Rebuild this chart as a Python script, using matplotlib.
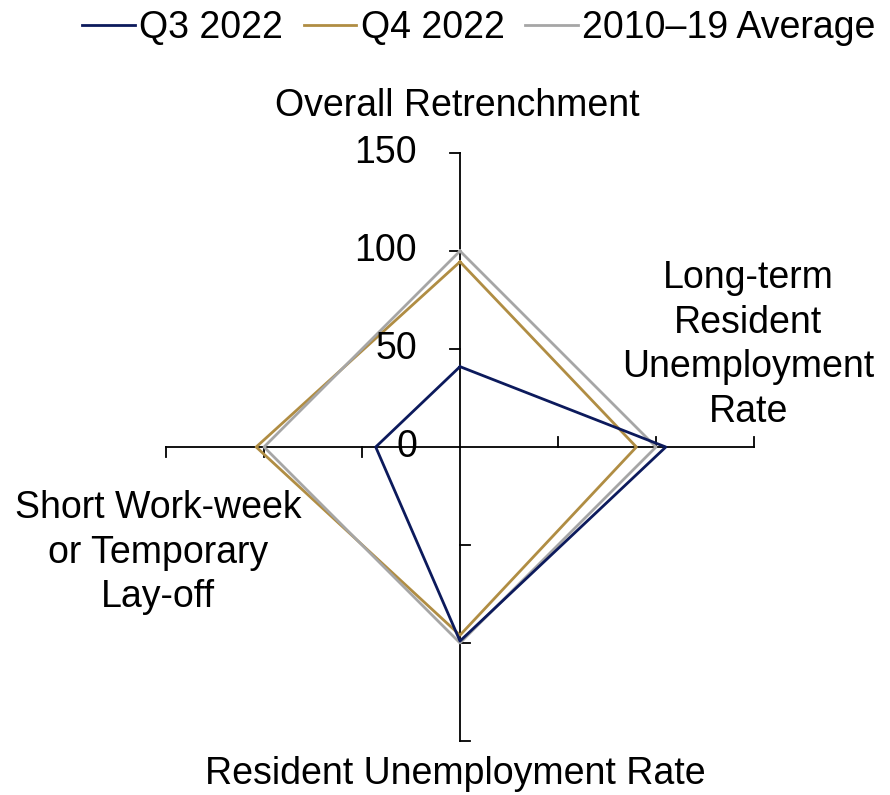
import numpy as np
import matplotlib
matplotlib.use("Agg")
import matplotlib.pyplot as plt

plt.rcParams["font.family"] = ["Liberation Sans", "DejaVu Sans"]

CATEGORIE = ["Overall Retrenchment",
             "Long-term\nResident\nUnemployment\nRate",
             "Resident Unemployment Rate",
             "Short Work-week\nor Temporary\nLay-off"]
Q3_2022 = [41, 105, 99, 43]
Q4_2022 = [94.5, 90, 96, 104]
MEDIA_2010_19 = [100, 100, 100, 100]
SERIE = ["Q3 2022", "Q4 2022", "2010\u201319 Average"]
COLORI = ["#0c1a5c", "#b08d43", "#a6a6a6"]
TICKS = [0, 50, 100, 150]
RMAX = 150
FS = 27

# direzioni dei raggi: alto, destra, basso, sinistra (senso orario)
ang = np.pi / 2 - np.arange(4) * np.pi / 2
dx, dy = np.cos(ang), np.sin(ang)
dx[np.abs(dx) < 1e-9] = 0
dy[np.abs(dy) < 1e-9] = 0

fig = plt.figure(figsize=(8.9, 7.95), dpi=100)
ax = fig.add_axes([0, 0, 1, 1])
px = 294 / RMAX                       # pixel per unità
ax.set_xlim(-460 / px, (890 - 460) / px)
ax.set_ylim((447 - 795) / px, 447 / px)
ax.set_aspect("equal")
ax.axis("off")

# raggi e tacche (tacca ruotata di 90° in senso antiorario rispetto al raggio)
tl = 10 / px
for i in range(4):
    ax.plot([0, RMAX * dx[i]], [0, RMAX * dy[i]], color="black", lw=1.3, zorder=1)
    nx, ny = -dy[i], dx[i]
    for t in TICKS[1:]:
        x0, y0 = t * dx[i], t * dy[i]
        ax.plot([x0, x0 + tl * nx], [y0, y0 + tl * ny], color="black", lw=1.3, zorder=1)

for t in TICKS:
    ax.text(-22, t, str(t), ha="right", va="center", fontsize=FS)

for vals, lab, c in zip([Q3_2022, Q4_2022, MEDIA_2010_19], SERIE, COLORI):
    v = np.array(vals + vals[:1])
    x = v * np.append(dx, dx[0])
    y = v * np.append(dy, dy[0])
    ax.plot(x, y, color=c, lw=2, label=lab, zorder=3 if c == COLORI[0] else 2)

# etichette delle categorie
ax.text(-1.5, 174, CATEGORIE[0], ha="center", va="center", fontsize=FS)
ax.text(147, 52, CATEGORIE[1], ha="center", va="center", fontsize=FS, linespacing=1.3)
ax.text(-154, -54, CATEGORIE[3], ha="center", va="center", fontsize=FS, linespacing=1.3)
ax.text(-2.5, -167, CATEGORIE[2], ha="center", va="center", fontsize=FS)

fig.legend(loc="center", bbox_to_anchor=(479 / 890, 1 - 28 / 795), ncol=3, frameon=False,
           fontsize=FS, handlelength=1.4, handletextpad=0.12, columnspacing=0.55,
           borderpad=0, borderaxespad=0)

fig.savefig("out.png", dpi=100)
